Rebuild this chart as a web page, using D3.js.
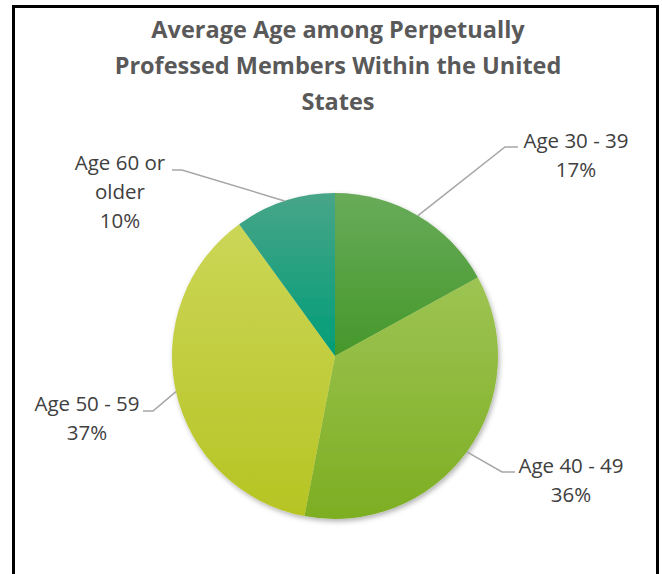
<!DOCTYPE html>
<html lang="en">
<head>
<meta charset="utf-8">
<script src="https://d3js.org/d3.v7.min.js"></script>
<style>
  body { margin: 0; background: #fff; }
  svg { display: block; font-family: "Open Sans", sans-serif; }
</style>
</head>
<body>
<div id="chart"></div>
<script>
// data
const categories = ["Age 30 - 39", "Age 40 - 49", "Age 50 - 59", "Age 60 or older"];
const values = [17, 36, 37, 10];
const labelLines = [["Age 30 - 39", "17%"], ["Age 40 - 49", "36%"], ["Age 50 - 59", "37%"], ["Age 60 or", "older", "10%"]];
const titleLines = ["Average Age among Perpetually", "Professed Members Within the United", "States"];

// gradient colours per slice (top, bottom)
const colTop = ["#68ab5a", "#9dc453", "#ccd657", "#48a588"];
const colBot = ["#45982a", "#7dae22", "#b6c423", "#009d78"];

// label layout: elbow + end of leader, text centre, first baseline
const labelPos = [
  { elbow: [505, 147], end: [518, 147], tx: 576, ty: 148 },
  { elbow: [502, 472], end: [515, 472], tx: 571, ty: 473 },
  { elbow: [153, 411], end: [143, 411], tx: 87, ty: 411 },
  { elbow: [182, 170], end: [172, 170], tx: 120, ty: 170 }
];

const W = 662, H = 574;
const cx = 335, cy = 356, r = 163;

const svg = d3.select("#chart").append("svg").attr("width", W).attr("height", H);

const defs = svg.append("defs");
const shadow = defs.append("filter").attr("id", "shadow")
  .attr("x", "-20%").attr("y", "-20%").attr("width", "140%").attr("height", "140%");
shadow.append("feDropShadow").attr("dx", 1.5).attr("dy", 2.5).attr("stdDeviation", 2.5)
  .attr("flood-color", "#000").attr("flood-opacity", 0.3);

values.forEach((v, i) => {
  const g = defs.append("linearGradient").attr("id", "grad" + i)
    .attr("x1", 0).attr("y1", 0).attr("x2", 0).attr("y2", 1);
  g.append("stop").attr("offset", "0%").attr("stop-color", colTop[i]);
  g.append("stop").attr("offset", "100%").attr("stop-color", colBot[i]);
});

// border
svg.append("rect")
  .attr("x", 13.5).attr("y", 6.5).attr("width", 644).attr("height", H + 20)
  .attr("fill", "none").attr("stroke", "#000").attr("stroke-width", 3);

// title
svg.append("g").selectAll("text")
  .data(titleLines).join("text")
  .attr("x", 338).attr("y", (d, i) => 38 + i * 36)
  .attr("text-anchor", "middle")
  .attr("font-size", 23.5).attr("font-weight", "bold")
  .attr("fill", "#595959")
  .text(d => d);

// pie
const pie = d3.pie().sort(null).value(d => d);
const arcs = pie(values);
const arc = d3.arc().innerRadius(0).outerRadius(r);
const edgeArc = d3.arc().innerRadius(r).outerRadius(r);

const gPie = svg.append("g").attr("transform", `translate(${cx},${cy})`)
  .attr("filter", "url(#shadow)");
gPie.selectAll("path")
  .data(arcs).join("path")
  .attr("d", arc)
  .attr("fill", (d, i) => `url(#grad${i})`);

// leaders
const gLead = svg.append("g");
arcs.forEach((a, i) => {
  const p = edgeArc.centroid(a);
  const lp = labelPos[i];
  gLead.append("polyline")
    .attr("points", [[cx + p[0], cy + p[1]], lp.elbow, lp.end].map(q => q.join(",")).join(" "))
    .attr("fill", "none").attr("stroke", "#a6a6a6").attr("stroke-width", 1.5);
});

// labels
const gLab = svg.append("g");
labelLines.forEach((lines, i) => {
  const lp = labelPos[i];
  gLab.selectAll(null)
    .data(lines).enter().append("text")
    .attr("x", lp.tx).attr("y", (d, j) => lp.ty + j * 29)
    .attr("text-anchor", "middle")
    .attr("font-size", 20.5).attr("fill", "#404040")
    .text(d => d);
});
</script>
</body>
</html>
